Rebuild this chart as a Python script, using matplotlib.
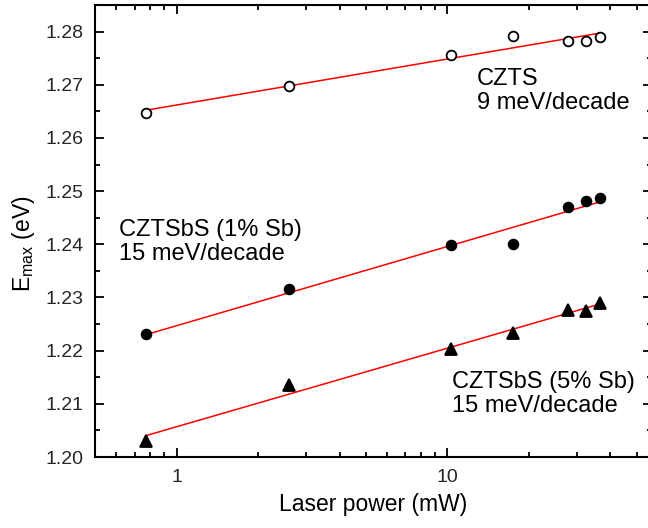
import numpy as np
import matplotlib
matplotlib.use("Agg")
from matplotlib import pyplot as plt
from matplotlib.ticker import MultipleLocator, FixedLocator, LogLocator, NullFormatter, FuncFormatter

plt.rcParams['font.family'] = ['Liberation Sans', 'DejaVu Sans']
plt.rcParams['mathtext.fontset'] = 'custom'
plt.rcParams['mathtext.rm'] = 'Liberation Sans'
plt.rcParams['mathtext.it'] = 'Liberation Sans:italic'

# laser power (mW)
power = [0.773, 2.60, 10.35, 17.5, 27.9, 32.4, 36.7]

# peak energy (eV)
e_czts = [1.2647, 1.2697, 1.2756, 1.2792, 1.2783, 1.2782, 1.2789]
e_sb1 = [1.2231, 1.2315, 1.2398, 1.2401, 1.2470, 1.2481, 1.2487]
e_sb5 = [1.2031, 1.2135, 1.2203, 1.2234, 1.2276, 1.2275, 1.2290]

labels = ["CZTS\n9 meV/decade",
          "CZTSbS (1% Sb)\n15 meV/decade",
          "CZTSbS (5% Sb)\n15 meV/decade"]

fig = plt.figure(figsize=(6.48, 5.28), dpi=100)
ax = fig.add_axes([95/648, 71/528, 557/648, 452/528])

x = np.array(power)
for e, mk, fc in [(e_czts, 'o', 'white'), (e_sb1, 'o', 'black'), (e_sb5, '^', 'black')]:
    p = np.polyfit(np.log10(x), e, 1)
    xf = np.array([x.min(), x.max()])
    ax.plot(xf, np.polyval(p, np.log10(xf)), color='red', lw=1.1, zorder=2)
    ms = 7 if mk == 'o' else 8.5
    ax.plot(x, e, linestyle='none', marker=mk, ms=ms, mfc=fc, mec='black',
            mew=1.3, zorder=3)

ax.set_xscale('log')
ax.set_xlim(0.5, 57)
ax.set_ylim(1.20, 1.285)

ax.xaxis.set_major_locator(FixedLocator([1, 10]))
ax.xaxis.set_major_formatter(FuncFormatter(lambda v, pos: '%g' % v))
ax.xaxis.set_minor_locator(LogLocator(base=10, subs=np.arange(2, 10)))
ax.xaxis.set_minor_formatter(NullFormatter())
ax.yaxis.set_major_locator(MultipleLocator(0.01))
ax.yaxis.set_minor_locator(MultipleLocator(0.005))
ax.yaxis.set_major_formatter(FuncFormatter(lambda v, pos: '%.2f' % v))

ax.tick_params(which='both', direction='in', top=True, right=True, width=1.3,
               labelsize=14, colors='black')
ax.tick_params(which='major', length=6.5)
ax.tick_params(axis='x', which='major', pad=9)
ax.tick_params(axis='y', which='major', pad=8)
ax.tick_params(which='minor', length=3.5)
ax.tick_params(axis='both', labelcolor='#262626')
for s in ax.spines.values():
    s.set_linewidth(1.5)

ax.set_xlabel('Laser power (mW)', fontsize=16.5, labelpad=5)
ax.set_ylabel(r'E$_{\mathrm{max}}$ (eV)', fontsize=16.5)
ax.yaxis.set_label_coords(-0.104, 0.471)

ax.text(0.686, 0.861, labels[0], transform=ax.transAxes, fontsize=17,
        va='top', ha='left', linespacing=1.12)
ax.text(0.043, 0.527, labels[1], transform=ax.transAxes, fontsize=17,
        va='top', ha='left', linespacing=1.12)
ax.text(0.641, 0.19, labels[2], transform=ax.transAxes, fontsize=17,
        va='top', ha='left', linespacing=1.12)

fig.savefig('out.png', dpi=100)
